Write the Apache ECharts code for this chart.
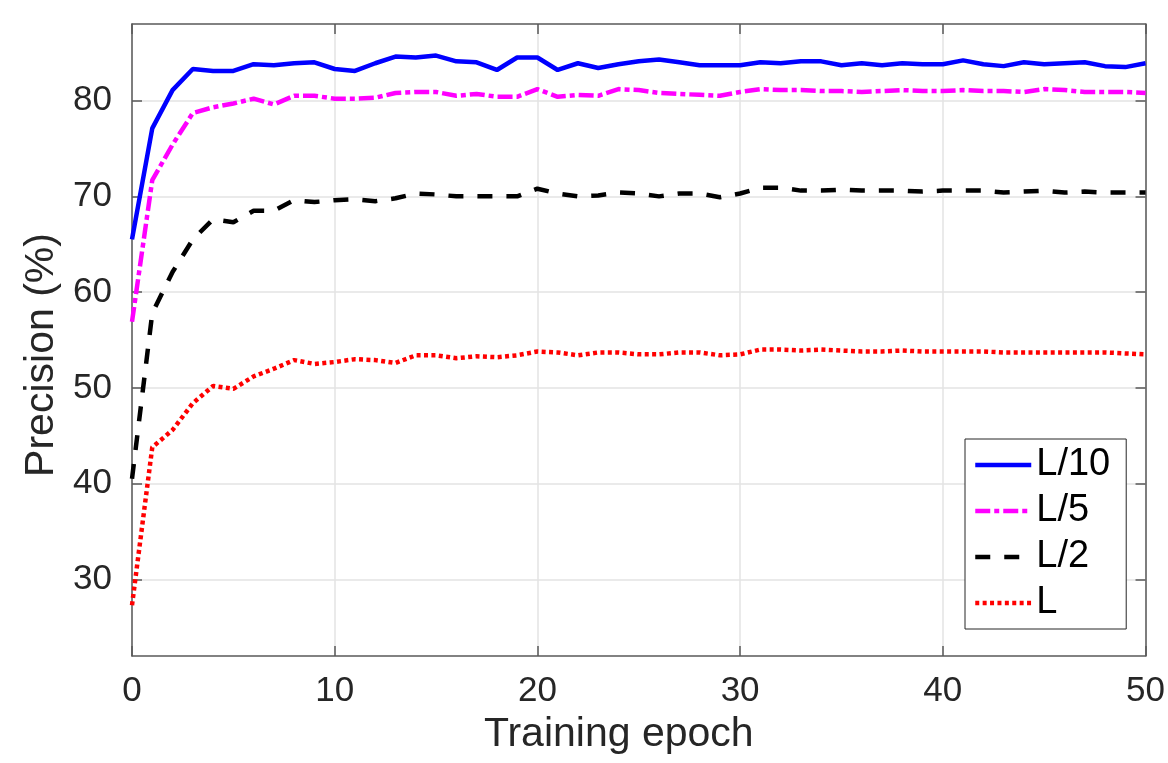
<!DOCTYPE html>
<html>
<head>
<meta charset="utf-8">
<script src="https://cdn.jsdelivr.net/npm/echarts@6/dist/echarts.min.js"></script>
<style>
html,body{margin:0;padding:0;background:#fff;}
#c{width:1168px;height:763px;}
</style>
</head>
<body>
<div id="c"></div>
<script>
var epochs = [0,1,2,3,4,5,6,7,8,9,10,11,12,13,14,15,16,17,18,19,20,21,22,23,24,25,26,27,28,29,30,31,32,33,34,35,36,37,38,39,40,41,42,43,44,45,46,47,48,49,50];
var seriesNames = ['L/10','L/5','L/2','L'];
var precL10 = [65.5,77.1,81.1,83.3,83.1,83.1,83.8,83.7,83.9,84.0,83.3,83.1,83.9,84.6,84.5,84.7,84.1,84.0,83.2,84.5,84.5,83.2,83.9,83.4,83.8,84.1,84.3,84.0,83.7,83.7,83.7,84.0,83.9,84.1,84.1,83.7,83.9,83.7,83.9,83.8,83.8,84.2,83.8,83.6,84.0,83.8,83.9,84.0,83.6,83.5,83.9];
var precL5 = [56.9,71.7,75.4,78.7,79.3,79.7,80.2,79.6,80.5,80.5,80.2,80.2,80.3,80.8,80.9,80.9,80.5,80.7,80.4,80.4,81.2,80.4,80.6,80.5,81.2,81.1,80.8,80.7,80.6,80.5,80.9,81.2,81.1,81.1,81.0,81.0,80.9,81.0,81.1,81.0,81.0,81.1,81.0,81.0,80.9,81.2,81.1,80.9,80.9,80.9,80.8];
var precL2 = [40.5,57.8,62.1,65.5,67.6,67.3,68.5,68.5,69.6,69.4,69.6,69.7,69.5,69.8,70.3,70.2,70.0,70.0,70.0,70.0,70.8,70.3,70.0,70.1,70.4,70.3,70.0,70.3,70.3,69.9,70.3,70.9,70.9,70.6,70.6,70.7,70.6,70.6,70.6,70.5,70.6,70.6,70.6,70.4,70.5,70.6,70.4,70.5,70.4,70.4,70.4];
var precL1 = [27.3,43.8,45.6,48.4,50.2,49.9,51.2,52.0,52.9,52.5,52.7,53.0,52.9,52.6,53.4,53.4,53.1,53.3,53.2,53.4,53.8,53.7,53.4,53.7,53.7,53.5,53.5,53.7,53.7,53.4,53.5,54.0,54.0,53.9,54.0,53.9,53.8,53.8,53.9,53.8,53.8,53.8,53.8,53.7,53.7,53.7,53.7,53.7,53.7,53.6,53.5];
var yTicks = [30,40,50,60,70,80];

function pairs(ys){ return epochs.map(function(x,i){ return [x, ys[i]]; }); }

var FONT = '"Liberation Sans", Arial, Helvetica, sans-serif';
var axisLineStyle = {color:'#5a5a5a', width:1.5};
var gridColor = '#e3e3e3';
var LW = 4.5;

var chart = echarts.init(document.getElementById('c'), null, {renderer:'canvas'});
var option = {
  animation:false,
  backgroundColor:'#ffffff',
  grid:{left:132, top:24, right:18, bottom:107, containLabel:false},
  legend:{
    orient:'vertical', left:965, top:439,
    data:seriesNames,
    itemWidth:56, itemHeight:14, itemGap:6,
    padding:[6,16,6,8],
    borderColor:'#262626', borderWidth:1, backgroundColor:'#ffffff',
    itemStyle:{opacity:0, borderWidth:0},
    lineStyle:{width:LW},
    textStyle:{fontFamily:FONT, fontSize:38, color:'#000', lineHeight:40},
    selectedMode:false
  },
  xAxis:[{
    type:'value', min:0, max:50, interval:10, position:'bottom',
    name:'Training epoch', nameLocation:'middle', nameGap:58,
    nameTextStyle:{fontFamily:FONT, fontSize:41, color:'#262626', padding:[0,40,0,0]},
    axisLine:{show:true, onZero:false, lineStyle:axisLineStyle},
    axisTick:{show:true, inside:true, length:10, lineStyle:axisLineStyle},
    axisLabel:{fontFamily:FONT, fontSize:35, color:'#262626', margin:18},
    splitLine:{show:true, lineStyle:{color:gridColor, width:1.5}}
  },{
    type:'value', min:0, max:50, interval:10, position:'top',
    axisLine:{show:true, onZero:false, lineStyle:axisLineStyle},
    axisTick:{show:true, inside:true, length:10, lineStyle:axisLineStyle},
    axisLabel:{show:false}, splitLine:{show:false}
  }],
  yAxis:[{
    type:'value', min:22, max:88, position:'left',
    name:'Precision (%)', nameLocation:'middle', nameGap:70,
    nameTextStyle:{fontFamily:FONT, fontSize:41, color:'#262626', padding:[0,30,0,0]},
    axisLine:{show:true, onZero:false, lineStyle:axisLineStyle},
    axisTick:{show:true, inside:true, length:10, lineStyle:axisLineStyle, customValues:yTicks},
    axisLabel:{fontFamily:FONT, fontSize:35, color:'#262626', margin:20, customValues:yTicks},
    splitLine:{show:true, lineStyle:{color:gridColor, width:1.5}}
  },{
    type:'value', min:22, max:88, position:'right',
    axisLine:{show:true, onZero:false, lineStyle:axisLineStyle},
    axisTick:{show:true, inside:true, length:10, lineStyle:axisLineStyle, customValues:yTicks},
    axisLabel:{show:false, customValues:yTicks}, splitLine:{show:false}
  }],
  series:[
    {name:'L/10', type:'line', data:pairs(precL10), symbol:'none', z:4,
     lineStyle:{color:'#0000ff', width:LW}, itemStyle:{color:'#0000ff'}},
    {name:'L/5', type:'line', data:pairs(precL5), symbol:'none', z:3,
     lineStyle:{color:'#ff00ff', width:LW, type:[15,4,5,4], cap:'butt'}, itemStyle:{color:'#ff00ff'}},
    {name:'L/2', type:'line', data:pairs(precL2), symbol:'none', z:2,
     lineStyle:{color:'#000000', width:LW, type:[15,14], cap:'butt'}, itemStyle:{color:'#000000'}},
    {name:'L', type:'line', data:pairs(precL1), symbol:'none', z:1,
     lineStyle:{color:'#ff0000', width:LW, type:[4,3.4], cap:'butt'}, itemStyle:{color:'#ff0000'}}
  ]
};
chart.setOption(option);
</script>
</body>
</html>
